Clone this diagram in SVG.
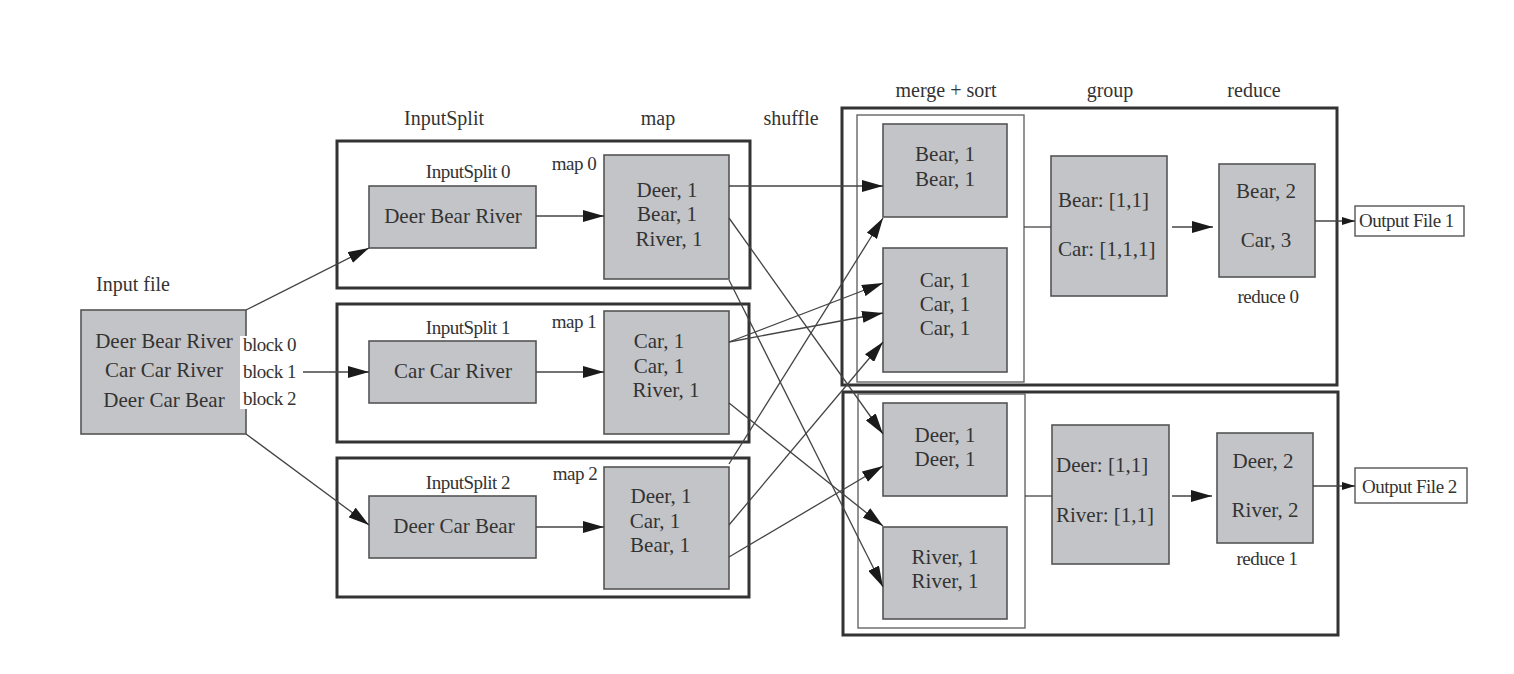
<svg xmlns="http://www.w3.org/2000/svg" width="1514" height="674" viewBox="0 0 1514 674">
<style>
text{font-family:"Liberation Serif","Times New Roman",serif;fill:#333;}
.t{font-size:21px;}
.s{font-size:19px;letter-spacing:-0.5px;}
.h{font-size:20px;}
.m{text-anchor:middle;}
.box{fill:#c3c4c7;stroke:#555;stroke-width:1.6;}
.outer{fill:none;stroke:#333;stroke-width:3;}
.thin{fill:none;stroke:#666;stroke-width:1.4;}
.out{fill:#fff;stroke:#555;stroke-width:1.4;}
.ln{fill:none;stroke:#444;stroke-width:1.3;}
.a{marker-end:url(#ah);}
.as{marker-end:url(#ahs);}
</style>
<defs>
<marker id="ah" markerUnits="userSpaceOnUse" markerWidth="22" markerHeight="12" refX="21" refY="6" orient="auto">
<path d="M0,0 L21,6 L0,12 Z" fill="#1a1a1a"/>
</marker>
<marker id="ahs" markerUnits="userSpaceOnUse" markerWidth="14" markerHeight="8" refX="13" refY="4" orient="auto">
<path d="M0,0 L13,4 L0,8 Z" fill="#1a1a1a"/>
</marker>
</defs>
<rect width="1514" height="674" fill="#fff"/>

<g id="headers">
<text class="h m" x="444" y="125">InputSplit</text>
<text class="h m" x="658" y="125">map</text>
<text class="h m" x="791" y="125">shuffle</text>
<text class="h m" x="946" y="97">merge + sort</text>
<text class="h m" x="1110" y="97">group</text>
<text class="h m" x="1254" y="97">reduce</text>
</g>

<g id="outer-boxes">
<rect class="outer" x="337" y="141" width="413" height="147"/>
<rect class="outer" x="337" y="304" width="412" height="138"/>
<rect class="outer" x="337" y="458" width="412" height="139"/>
<rect class="outer" x="842" y="108" width="495" height="277"/>
<rect class="outer" x="843" y="392" width="495" height="243"/>
<rect class="thin" x="857" y="115" width="167" height="267"/>
<rect class="thin" x="858" y="394" width="167" height="234"/>
</g>

<g id="input-file">
<text class="h" x="96" y="291">Input file</text>
<rect class="box" x="81" y="310" width="165" height="124"/>
<text class="t m" x="164" y="348">Deer Bear River</text>
<text class="t m" x="164" y="377">Car Car River</text>
<text class="t m" x="164" y="407">Deer Car Bear</text>
<rect x="240" y="336" width="62" height="73" fill="#fff"/>
<text class="s" x="243" y="351">block 0</text>
<text class="s" x="243" y="378">block 1</text>
<text class="s" x="243" y="405">block 2</text>
</g>

<g id="inputsplit0">
<text class="s m" x="468" y="178">InputSplit 0</text>
<rect class="box" x="369" y="186" width="167" height="62"/>
<text class="t m" x="453" y="223">Deer Bear River</text>
</g>
<g id="inputsplit1">
<text class="s m" x="468" y="334">InputSplit 1</text>
<rect class="box" x="369" y="341" width="167" height="62"/>
<text class="t m" x="453" y="378">Car Car River</text>
</g>
<g id="inputsplit2">
<text class="s m" x="468" y="489">InputSplit 2</text>
<rect class="box" x="369" y="496" width="167" height="62"/>
<text class="t m" x="454" y="533">Deer Car Bear</text>
</g>

<g id="map0">
<text class="s m" x="574" y="170">map 0</text>
<rect class="box" x="604" y="155" width="125" height="124"/>
<text class="t m" x="667" y="197">Deer, 1</text>
<text class="t m" x="667" y="221">Bear, 1</text>
<text class="t m" x="669" y="246">River, 1</text>
</g>
<g id="map1">
<text class="s m" x="574" y="328">map 1</text>
<rect class="box" x="604" y="311" width="125" height="123"/>
<text class="t m" x="659" y="348">Car, 1</text>
<text class="t m" x="659" y="373">Car, 1</text>
<text class="t m" x="666" y="397">River, 1</text>
</g>
<g id="map2">
<text class="s m" x="575" y="480">map 2</text>
<rect class="box" x="604" y="467" width="125" height="122"/>
<text class="t m" x="661" y="503">Deer, 1</text>
<text class="t m" x="655" y="528">Car, 1</text>
<text class="t m" x="660" y="552">Bear, 1</text>
</g>

<g id="merge-bear">
<rect class="box" x="883" y="124" width="124" height="93"/>
<text class="t m" x="945" y="161">Bear, 1</text>
<text class="t m" x="945" y="186">Bear, 1</text>
</g>
<g id="merge-car">
<rect class="box" x="883" y="248" width="124" height="124"/>
<text class="t m" x="945" y="287">Car, 1</text>
<text class="t m" x="945" y="311">Car, 1</text>
<text class="t m" x="945" y="335">Car, 1</text>
</g>
<g id="merge-deer">
<rect class="box" x="883" y="403" width="124" height="93"/>
<text class="t m" x="945" y="442">Deer, 1</text>
<text class="t m" x="945" y="466">Deer, 1</text>
</g>
<g id="merge-river">
<rect class="box" x="883" y="527" width="124" height="92"/>
<text class="t m" x="945" y="564">River, 1</text>
<text class="t m" x="945" y="588">River, 1</text>
</g>

<g id="group0">
<rect class="box" x="1051" y="156" width="116" height="140"/>
<text class="t" x="1058" y="207">Bear: [1,1]</text>
<text class="t" x="1058" y="256">Car: [1,1,1]</text>
</g>
<g id="group1">
<rect class="box" x="1052" y="425" width="117" height="139"/>
<text class="t" x="1056" y="472">Deer: [1,1]</text>
<text class="t" x="1056" y="522">River: [1,1]</text>
</g>

<g id="reduce0">
<rect class="box" x="1219" y="164" width="96" height="113"/>
<text class="t m" x="1266" y="198">Bear, 2</text>
<text class="t m" x="1266" y="247">Car, 3</text>
<text class="s m" x="1268" y="303">reduce 0</text>
</g>
<g id="reduce1">
<rect class="box" x="1217" y="433" width="96" height="110"/>
<text class="t m" x="1263" y="468">Deer, 2</text>
<text class="t m" x="1265" y="517">River, 2</text>
<text class="s m" x="1267" y="565">reduce 1</text>
</g>

<g id="output1">
<rect class="out" x="1355" y="206" width="109" height="30"/>
<text class="s" x="1359" y="227">Output File 1</text>
</g>
<g id="output2">
<rect class="out" x="1355" y="468" width="112" height="35"/>
<text class="s" x="1362" y="493">Output File 2</text>
</g>

<g id="connectors">
<line class="ln a" x1="246" y1="310" x2="369" y2="248"/>
<line class="ln a" x1="303" y1="372" x2="369" y2="372"/>
<line class="ln a" x1="246" y1="434" x2="369" y2="525"/>
<line class="ln a" x1="536" y1="216" x2="604" y2="216"/>
<line class="ln a" x1="536" y1="372" x2="604" y2="372"/>
<line class="ln a" x1="536" y1="527" x2="604" y2="527"/>
<line class="ln a" x1="729" y1="186" x2="883" y2="186"/>
<line class="ln a" x1="729" y1="218" x2="883" y2="434"/>
<line class="ln a" x1="729" y1="280" x2="883" y2="587"/>
<line class="ln a" x1="729" y1="342" x2="883" y2="283"/>
<line class="ln a" x1="729" y1="342" x2="883" y2="313"/>
<line class="ln a" x1="729" y1="403" x2="883" y2="526"/>
<line class="ln a" x1="729" y1="464" x2="883" y2="218"/>
<line class="ln a" x1="729" y1="525" x2="883" y2="342"/>
<line class="ln a" x1="729" y1="557" x2="883" y2="466"/>
<line class="ln" x1="1024" y1="227" x2="1051" y2="227"/>
<line class="ln" x1="1025" y1="496" x2="1052" y2="496"/>
<line class="ln a" x1="1172" y1="227" x2="1213" y2="227"/>
<line class="ln a" x1="1172" y1="496" x2="1212" y2="496"/>
<line class="ln as" x1="1315" y1="221" x2="1355" y2="221"/>
<line class="ln as" x1="1313" y1="486" x2="1355" y2="486"/>
</g>
</svg>
